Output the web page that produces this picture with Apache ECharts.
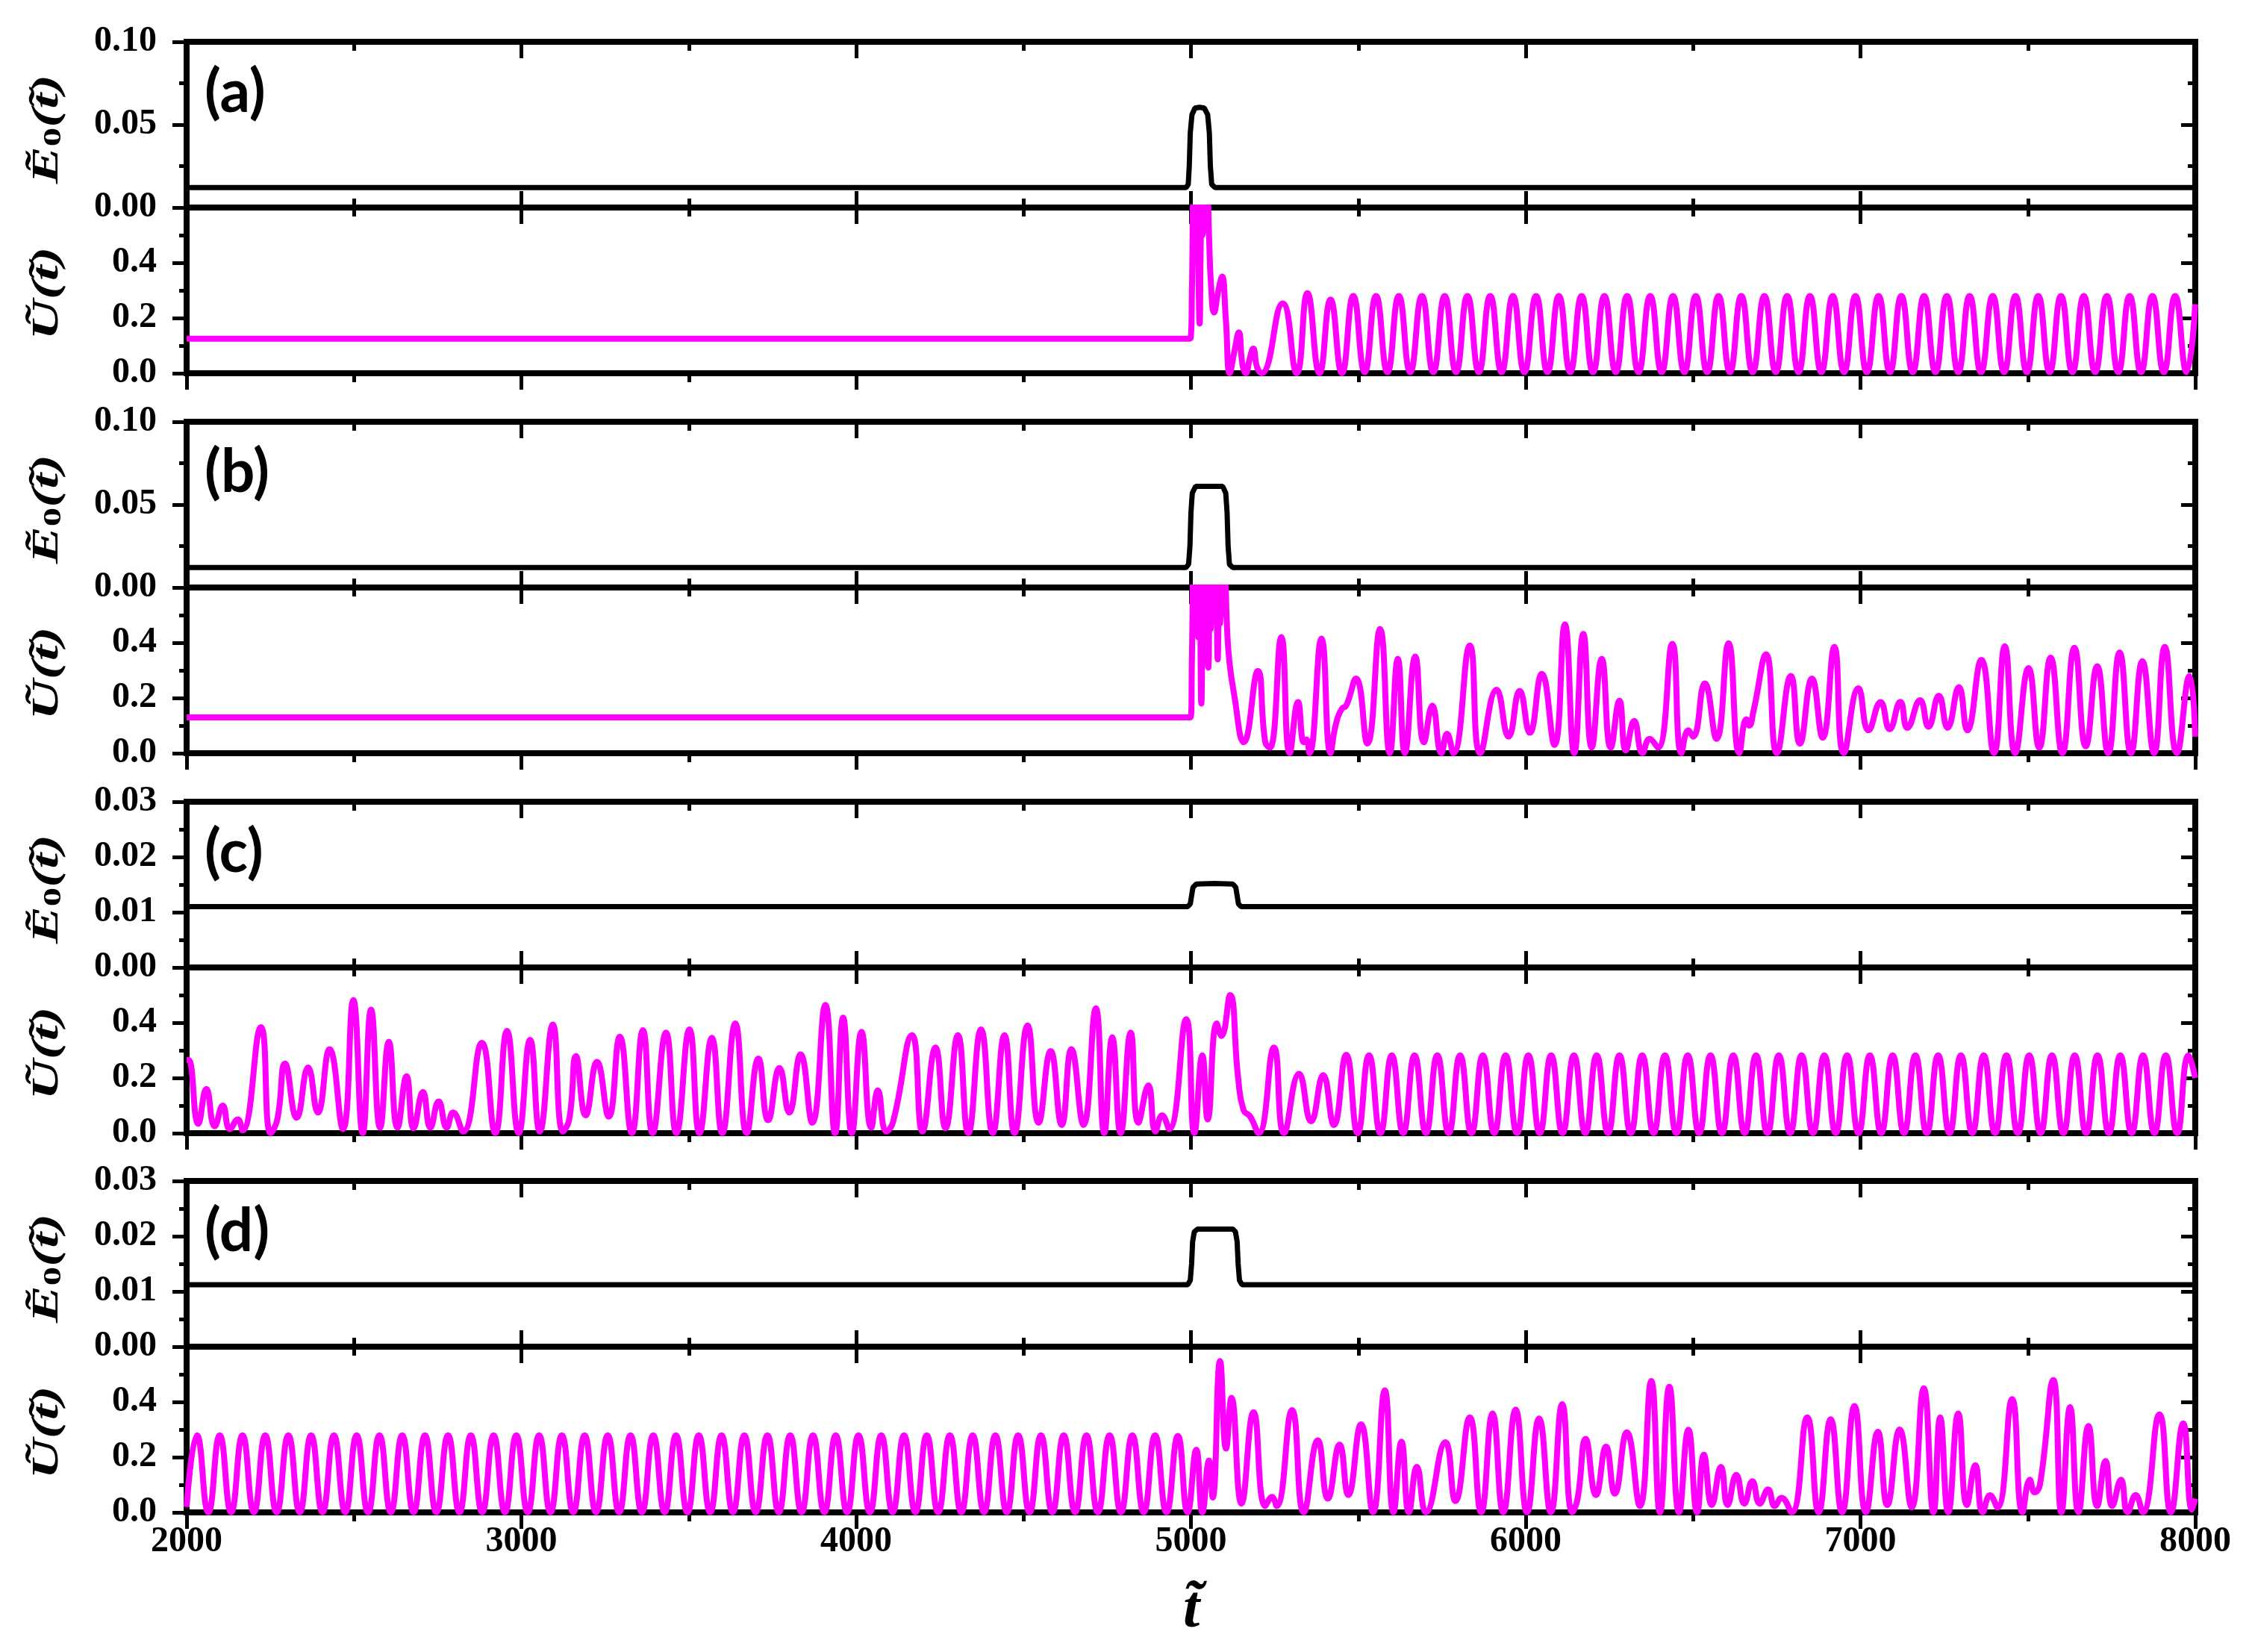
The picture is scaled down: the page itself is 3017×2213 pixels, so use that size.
<!DOCTYPE html>
<html><head><meta charset="utf-8">
<script src="https://cdn.jsdelivr.net/npm/echarts@6/dist/echarts.min.js"></script>
<style>html,body{margin:0;padding:0;background:#fff}#c{width:3017px;height:2213px}</style>
</head><body><div id="c"></div>
<script>
// ---- tick labels / categories ----
const tTicks = [2000, 3000, 4000, 5000, 6000, 7000, 8000];
const panelLabels = ['(a)', '(b)', '(c)', '(d)'];
const e0Max = [0.10, 0.10, 0.03, 0.03];
const e0Step = [0.05, 0.05, 0.01, 0.01];
const uMax = 0.6, uStep = 0.2;

// ---- E0(t) series (t, value) ----
const e0A = [[2000,.012],[4985,.012],[4992,.014],[4995,.025],[4998,.045],[5003,.056],[5012,.060],[5026,.0605],[5040,.060],[5050,.056],[5055,.045],[5058,.025],[5062,.014],[5072,.012],[8000,.012]];
const e0B = [[2000,.012],[4985,.012],[4993,.014],[4997,.025],[5000,.045],[5004,.057],[5014,.061],[5095,.061],[5104,.057],[5108,.045],[5111,.025],[5115,.014],[5125,.012],[8000,.012]];
const e0C = [[2000,.011],[4990,.011],[4998,.0115],[5002,.013],[5006,.0145],[5016,.0151],[5070,.0152],[5125,.0151],[5134,.0145],[5138,.013],[5142,.0115],[5150,.011],[8000,.011]];
const e0D = [[2000,.0112],[4990,.0112],[4998,.012],[5002,.015],[5005,.019],[5010,.0208],[5020,.0213],[5125,.0213],[5133,.0208],[5138,.019],[5141,.015],[5145,.012],[5153,.0112],[8000,.0112]];

// ---- U(t) series (t, value), peaks and troughs ----
const uA = [[2000,.125],[4990,.125],[4999,.127],[5003,.3],[5007,.62],[5010,.45],[5013,.65],[5016,.5],[5019,.65],[5022,.4],[5026,.18],[5029,.45],[5032,.65],[5035,.5],[5038,.65],[5041,.52],[5044,.65],[5047,.55],[5050,.64],[5054,.5],[5060,.32],[5069,.22],[5082,.3],[5093,.35],[5104,.2],[5116,0],[5130,.08],[5143,.148],[5154,.03],[5164,0],[5175,.05],[5186,.089],[5198,.02],[5211,0],[5274,.253],[5316,0],[5348,.29],[5384,0],[5417,.267],[5451,0],
[5485,.28],[5519,.004],[5553,.28],[5587,.004],[5621,.28],[5655,.004],[5690,.28],[5724,.004],[5758,.28],[5792,.004],[5826,.28],[5860,.004],[5894,.28],[5928,.004],[5962,.28],[5996,.004],[6031,.28],[6065,.004],[6099,.28],[6133,.004],[6167,.28],[6201,.004],[6235,.28],[6269,.004],[6303,.28],[6337,.004],[6372,.28],[6406,.004],[6440,.28],[6474,.004],[6508,.28],[6542,.004],[6576,.28],[6610,.004],[6644,.28],[6678,.004],[6713,.28],[6747,.004],[6781,.28],[6815,.004],[6849,.28],[6883,.004],[6917,.28],[6951,.004],[6985,.28],[7019,.004],[7054,.28],[7088,.004],[7122,.28],[7156,.004],[7190,.28],[7224,.004],[7258,.28],[7292,.004],[7326,.28],[7360,.004],[7395,.28],[7429,.004],[7463,.28],[7497,.004],[7531,.28],[7565,.004],[7599,.28],[7633,.004],[7667,.28],[7701,.004],[7736,.28],[7770,.004],[7804,.28],[7838,.004],[7872,.28],[7906,.004],[7940,.28],[7974,.004],[8000,.25]];

const uB = [[2000,.13],[4990,.13],[4999,.13],[5003,.35],[5007,.64],[5010,.45],[5013,.65],[5016,.5],[5019,.65],[5022,.42],[5026,.64],[5031,.18],[5035,.5],[5038,.65],[5041,.48],[5044,.65],[5048,.45],[5052,.31],[5056,.6],[5059,.45],[5062,.65],[5065,.5],[5068,.65],[5071,.48],[5075,.62],[5080,.34],[5084,.6],[5087,.47],[5090,.65],[5093,.5],[5096,.65],[5099,.52],[5102,.64],[5108,.45],[5115,.33],[5128,.22],[5158,.04],[5200,.298],[5222,.04],[5236,.02],[5270,.42],[5295,0],[5320,.185],[5337,.04],[5345,.05],[5354,0],[5390,.415],[5417,0],[5432,.1],[5450,.16],[5464,.173],[5493,.27],[5527,.035],[5565,.45],[5594,0],[5618,.342],[5639,0],[5670,.35],[5696,.04],[5721,.172],[5748,0],[5765,.07],[5784,0],[5833,.39],[5864,0],[5913,.23],[5949,.06],[5982,.226],[6012,.074],[6048,.287],[6086,.03],[6117,.466],[6145,0],[6172,.432],[6197,.02],[6227,.342],[6254,.02],[6280,.19],[6299,.01],[6324,.117],[6349,0],[6370,.052],[6395,.02],[6438,.396],[6465,0],[6486,.083],[6500,.06],[6535,.253],[6570,.052],[6606,.398],[6638,0],[6659,.123],[6668,.1],[6680,.15],[6718,.358],[6750,0],[6792,.28],[6819,.035],[6855,.27],[6887,.056],[6922,.385],[6950,0],[6994,.235],[7024,.083],[7060,.185],[7087,.087],[7119,.186],[7140,.092],[7178,.192],[7203,.096],[7234,.208],[7260,.092],[7294,.239],[7319,.083],[7361,.338],[7399,0],[7431,.387],[7462,0],[7502,.308],[7534,.02],[7568,.346],[7603,0],[7639,.382],[7673,.025],[7707,.315],[7740,0],[7774,.365],[7808,0],[7842,.333],[7877,0],[7909,.385],[7945,0],[7983,.28],[8000,.06]];

const uC = [[2000,.265],[2006,.265],[2035,.034],[2059,.16],[2084,.025],[2108,.10],[2129,.015],[2153,.05],[2167,.01],[2222,.384],[2251,0],[2271,.05],[2294,.252],[2329,.056],[2363,.238],[2392,.075],[2427,.304],[2467,.015],[2498,.482],[2526,0],[2551,.447],[2578,.02],[2604,.331],[2630,.02],[2657,.206],[2678,.018],[2706,.149],[2728,.02],[2753,.115],[2777,.02],[2796,.075],[2826,.006],[2882,.327],[2922,0],[2957,.37],[2992,0],[3026,.338],[3055,.006],[3094,.393],[3124,.006],[3143,.05],[3163,.279],[3192,.065],[3226,.258],[3261,.06],[3294,.349],[3330,0],[3363,.373],[3392,0],[3432,.364],[3463,0],[3502,.376],[3532,0],[3569,.345],[3600,0],[3639,.397],[3673,0],[3708,.27],[3737,.047],[3771,.236],[3800,.075],[3834,.285],[3869,.038],[3908,.464],[3937,0],[3961,.418],[3987,0],[4016,.367],[4045,.02],[4065,.155],[4090,.006],[4110,.04],[4167,.355],[4198,.006],[4237,.31],[4267,.018],[4304,.355],[4335,0],[4373,.376],[4408,0],[4443,.355],[4473,0],[4512,.39],[4545,.038],[4581,.297],[4614,.03],[4643,.304],[4679,.03],[4716,.452],[4741,0],[4765,.347],[4790,0],[4820,.364],[4843,.038],[4873,.173],[4894,.006],[4914,.065],[4935,.015],[4986,.413],[5010,0],[5034,.282],[5050,.05],[5077,.397],[5091,.352],[5117,.5],[5141,.2],[5157,.084],[5177,.06],[5202,0],[5248,.31],[5278,0],[5323,.215],[5359,.043],[5395,.21],[5427,.03],[5464,.284],
[5498,0],[5532,.282],[5566,0],[5600,.282],[5634,0],[5668,.282],[5702,0],[5736,.282],[5770,0],[5804,.282],[5838,0],[5872,.282],[5906,0],[5940,.282],[5974,0],[6008,.282],[6042,0],[6076,.282],[6110,0],[6144,.282],[6178,0],[6212,.282],[6246,0],[6280,.282],[6314,0],[6348,.282],[6382,0],[6416,.282],[6450,0],[6484,.282],[6518,0],[6552,.282],[6586,0],[6620,.282],[6654,0],[6688,.282],[6722,0],[6756,.282],[6790,0],[6824,.282],[6858,0],[6892,.282],[6926,0],[6960,.282],[6994,0],[7028,.282],[7062,0],[7096,.282],[7130,0],[7164,.282],[7198,0],[7232,.282],[7266,0],[7300,.282],[7334,0],[7368,.282],[7402,0],[7436,.282],[7470,0],[7504,.282],[7538,0],[7572,.282],[7606,0],[7640,.282],[7674,0],[7708,.282],[7742,0],[7776,.282],[7810,0],[7844,.282],[7878,0],[7912,.282],[7946,0],[7980,.282],[8000,.2]];

const uD = [[2000,.02],[2031,.279],[2065,0],[2099,.279],[2133,0],[2167,.279],[2201,0],[2235,.279],[2269,0],[2304,.279],[2338,0],[2372,.279],[2406,0],[2440,.279],[2474,0],[2508,.279],[2542,0],[2576,.279],[2610,0],[2644,.279],[2678,0],[2712,.279],[2746,0],[2781,.279],[2815,0],[2849,.279],[2883,0],[2917,.279],[2951,0],[2985,.279],[3019,0],[3053,.279],[3087,0],[3121,.279],[3155,0],[3189,.279],[3223,0],[3258,.279],[3292,0],[3326,.279],[3360,0],[3394,.279],[3428,0],[3462,.279],[3496,0],[3530,.279],[3564,0],[3598,.279],[3632,0],[3666,.279],[3700,0],[3735,.279],[3769,0],[3803,.279],[3837,0],[3871,.279],[3905,0],[3939,.279],[3973,0],[4007,.279],[4041,0],[4075,.279],[4109,0],[4143,.279],[4177,0],[4211,.279],[4245,0],[4280,.279],[4314,0],[4348,.279],[4382,0],[4416,.279],[4450,0],[4484,.279],[4518,0],[4552,.279],[4586,0],[4620,.279],[4654,0],[4688,.279],[4722,0],[4757,.279],[4791,0],[4825,.279],[4859,0],[4893,.279],[4927,0],[4961,.277],
[4990,0],[5016,.227],[5034,0],[5054,.188],[5065,.054],[5087,.548],[5105,.231],[5121,.415],[5151,.032],[5187,.363],[5222,.023],[5242,.056],[5256,.023],[5302,.37],[5337,0],[5379,.261],[5409,.05],[5444,.245],[5470,.063],[5508,.319],[5544,0],[5579,.442],[5605,0],[5629,.256],[5651,0],[5675,.165],[5702,0],[5760,.254],[5790,.041],[5833,.344],[5867,0],[5901,.358],[5933,0],[5970,.372],[6004,0],[6040,.34],[6075,0],[6109,.392],[6139,0],[6155,.05],[6179,.266],[6210,.063],[6240,.238],[6266,.068],[6302,.29],[6341,.023],[6375,.476],[6401,0],[6429,.455],[6458,0],[6486,.299],[6512,0],[6532,.209],[6556,.027],[6583,.165],[6603,.027],[6629,.136],[6653,.032],[6677,.113],[6699,.032],[6724,.083],[6744,.023],[6764,.053],[6794,0],[6841,.344],[6875,0],[6911,.337],[6945,0],[6982,.385],[7016,0],[7052,.292],[7080,.027],[7117,.3],[7153,.018],[7189,.449],[7218,0],[7238,.344],[7262,0],[7292,.358],[7318,.027],[7343,.17],[7365,0],[7387,.062],[7409,.018],[7453,.41],[7484,0],[7506,.118],[7520,.073],[7536,.1],[7576,.479],[7600,0],[7626,.381],[7651,0],[7681,.313],[7707,.023],[7732,.186],[7752,.023],[7778,.118],[7798,0],[7822,.063],[7843,0],[7893,.355],[7927,0],[7964,.322],[7990,.01],[8000,.05]];

const e0Data = [e0A, e0B, e0C, e0D];
const uData = [uA, uB, uC, uD];

// ---- layout ----
const L = 250, W = 2691, H = 222;
const pairTop = [56, 565, 1074, 1582];
const AL = {color: '#000', width: 8, cap: 'square'};
const labelFont = {fontFamily: 'Liberation Serif', fontWeight: 'bold', fontSize: 48, color: '#000'};

const grids = [], xAxes = [], yAxes = [], series = [], graphics = [];

function xAx(g, pos, inside, labels) {
  return {
    gridIndex: g, type: 'value', position: pos,
    min: tTicks[0], max: tTicks[tTicks.length - 1], interval: 1000,
    axisLine: {show: true, onZero: false, lineStyle: AL},
    axisTick: {show: true, inside: inside, length: 22, lineStyle: {color: '#000', width: 5}},
    minorTick: {show: true, splitNumber: 2, length: 12, lineStyle: {color: '#000', width: 5}},
    splitLine: {show: false}, minorSplitLine: {show: false},
    axisLabel: Object.assign({show: labels, margin: 16,
      formatter: v => tTicks.includes(v) ? String(v) : ''}, labelFont)
  };
}
function yAx(g, pos, max, step, dec, hideMax) {
  const left = pos === 'left';
  return {
    gridIndex: g, type: 'value', position: pos, min: 0, max: max, interval: step,
    axisLine: {show: true, onZero: false, lineStyle: AL},
    axisTick: {show: true, inside: !left, length: 19, lineStyle: {color: '#000', width: 5}},
    minorTick: {show: true, splitNumber: 2, length: 10, lineStyle: {color: '#000', width: 5}},
    splitLine: {show: false}, minorSplitLine: {show: false},
    axisLabel: Object.assign({show: left, margin: 40, padding: [0, 0, 24, 0],
      formatter: v => (hideMax && v > max - 1e-9) ? '' : v.toFixed(dec)}, labelFont)
  };
}

const titleRich = {
  e: {fontFamily: 'Liberation Serif', fontStyle: 'italic', fontWeight: 'bold', fontSize: 50, fill: '#000', color: '#000'},
  s: {fontFamily: 'Liberation Serif', fontWeight: 'bold', fontSize: 34, fill: '#000', color: '#000', verticalAlign: 'bottom'}
};

for (let p = 0; p < 4; p++) {
  const gE = 2 * p, gU = 2 * p + 1;
  grids.push({left: L, width: W, top: pairTop[p], height: H});
  grids.push({left: L, width: W, top: pairTop[p] + H, height: H});
  xAxes.push(xAx(gE, 'bottom', true, false));
  xAxes.push(xAx(gE, 'top', true, false));
  yAxes.push(yAx(gE, 'left', e0Max[p], e0Step[p], 2, false));
  yAxes.push(yAx(gE, 'right', e0Max[p], e0Step[p], 2, false));
  xAxes.push(xAx(gU, 'bottom', false, p === 3));
  xAxes.push(xAx(gU, 'top', true, false));
  yAxes.push(yAx(gU, 'left', uMax, uStep, 1, true));
  yAxes.push(yAx(gU, 'right', uMax, uStep, 1, true));

  series.push({type: 'line', xAxisIndex: 2 * gE, yAxisIndex: 2 * gE, data: e0Data[p],
    showSymbol: false, symbol: 'none', smooth: false, clip: true,
    lineStyle: {color: '#000', width: 7}, z: 3});
  series.push({type: 'line', xAxisIndex: 2 * gU, yAxisIndex: 2 * gU, data: uData[p],
    showSymbol: false, symbol: 'none', smooth: 0.5, clip: true,
    lineStyle: {color: '#ff00ff', width: 8}, z: 3});

  graphics.push({type: 'text', x: 274, y: pairTop[p] + 68,
    style: {text: panelLabels[p], font: 'bold 80px Lato', fill: '#000', align: 'left', verticalAlign: 'middle'}});
  graphics.push({type: 'text', x: 64, y: pairTop[p] + H / 2 + 6, rotation: Math.PI / 2, scaleX: 1.5,
    style: {text: '{e|Ẽ}{s|0}{e|(t̃)}', rich: titleRich, fill: '#000', align: 'center', verticalAlign: 'middle'}});
  graphics.push({type: 'text', x: 64, y: pairTop[p] + H + H / 2 + 4, rotation: Math.PI / 2, scaleX: 1.5,
    style: {text: '{e|Ũ(t̃)}', rich: titleRich, fill: '#000', align: 'center', verticalAlign: 'middle'}});
}
graphics.push({type: 'text', x: 1596, y: 2158,
  style: {text: 't̃', font: 'italic bold 80px "Liberation Serif"', fill: '#000', align: 'center', verticalAlign: 'middle'}});

const chart = echarts.init(document.getElementById('c'), null, {renderer: 'canvas'});
chart.setOption({
  animation: false,
  backgroundColor: '#fff',
  grid: grids, xAxis: xAxes, yAxis: yAxes, series: series, graphic: graphics
});
</script>
</body></html>
